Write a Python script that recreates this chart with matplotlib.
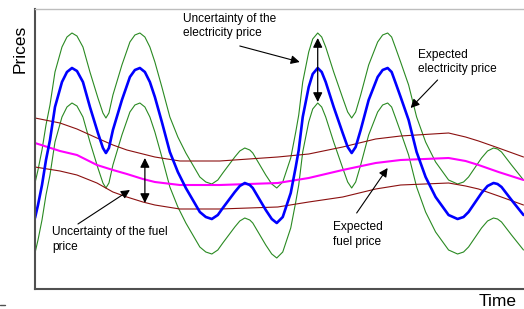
import matplotlib
matplotlib.use("Agg")
import matplotlib.pyplot as plt
from matplotlib.lines import Line2D

plt.rcParams['font.family'] = ['Liberation Sans', 'DejaVu Sans']
plt.rcParams['lines.solid_joinstyle'] = 'round'
plt.rcParams['lines.solid_capstyle'] = 'round'

# ---- data (schematic units: time 0..489, price 0..279) ----
elec_time = [0, 3, 7, 11, 15, 20, 27, 32, 37, 42, 48, 55, 63, 68, 71, 74, 78, 87, 95, 100,
             105, 110, 115, 120, 127, 135, 143, 151, 165, 171, 177, 183, 188, 200, 205, 210,
             215, 218, 231, 237, 242, 248, 256, 261, 264, 268, 274, 278, 283, 287, 291, 299,
             308, 313, 317, 321, 326, 334, 343, 348, 353, 357, 361, 366, 374, 382, 391, 401,
             414, 423, 429, 434, 447, 453, 459, 463, 467, 477, 489]
elec_expected = [70, 83, 103, 128, 148, 181, 206, 216, 220, 217, 206, 181, 155, 140, 135, 140,
                 158, 188, 211, 218, 220, 216, 206, 191, 166, 136, 116, 100, 76, 71, 69, 73,
                 80, 96, 102, 105, 103, 100, 78, 69, 65, 71, 95, 121, 138, 171, 201, 214, 220,
                 216, 206, 181, 155, 141, 135, 141, 158, 188, 211, 218, 220, 216, 205, 191,
                 168, 136, 111, 91, 73, 69, 71, 76, 95, 102, 105, 104, 101, 88, 73]
elec_upper = [105, 118, 138, 163, 183, 216, 241, 251, 255, 252, 241, 216, 190, 175, 170, 175,
              193, 223, 246, 253, 255, 251, 241, 226, 201, 171, 151, 135, 111, 106, 104, 108,
              115, 131, 137, 140, 138, 135, 113, 104, 100, 106, 130, 156, 173, 206, 236, 249,
              255, 251, 241, 216, 190, 176, 170, 176, 193, 223, 246, 253, 255, 251, 240, 226,
              203, 171, 146, 126, 108, 104, 106, 111, 130, 137, 140, 139, 136, 123, 108]
elec_lower = [35, 48, 68, 93, 113, 146, 171, 181, 185, 182, 171, 146, 120, 105, 100, 105,
              123, 153, 176, 183, 185, 181, 171, 156, 131, 101, 81, 65, 41, 36, 34, 38,
              45, 61, 67, 70, 68, 65, 43, 34, 30, 36, 60, 86, 103, 136, 166, 179, 185,
              181, 171, 146, 120, 106, 100, 106, 123, 153, 176, 183, 185, 181, 170, 156,
              133, 101, 76, 56, 38, 34, 36, 41, 60, 67, 70, 69, 66, 53, 38]

fuel_time = [0, 25, 42, 62, 78, 92, 108, 120, 145, 185, 243, 274, 308, 341, 366, 414, 431,
             444, 464, 489]
fuel_upper = [170, 165, 159, 150, 143, 138, 134, 131, 127, 127, 131, 134, 141, 149, 152, 155,
              151, 147, 140, 131]
fuel_expected = [145, 137, 133, 123, 118, 114, 109, 106, 103, 103, 105, 110, 118, 125, 128,
                 130, 127, 123, 116, 108]
fuel_lower = [121, 117, 113, 105, 96, 91, 86, 83, 79, 79, 81, 86, 91, 99, 103, 105, 102, 99,
              92, 83]

# ---- figure ----
W, H = 524, 309
fig = plt.figure(figsize=(W / 100, H / 100), dpi=100)
ax = fig.add_axes([34.5 / W, (H - 289) / H, (W - 34.5) / W, (289 - 9) / H])
ax.set_xlim(-0.5, 489.5)
ax.set_ylim(-1, 279)

green = '#2a8a22'
darkred = '#8b1010'
ax.plot(elec_time, elec_upper, color=green, lw=0.8)
ax.plot(elec_time, elec_lower, color=green, lw=0.8)
ax.plot(fuel_time, fuel_upper, color=darkred, lw=0.8)
ax.plot(fuel_time, fuel_lower, color=darkred, lw=0.8)
ax.plot(fuel_time, fuel_expected, color='#ff00ff', lw=1.5)
ax.plot(elec_time, elec_expected, color='#0000ff', lw=1.9)

ax.set_xticks([])
ax.set_yticks([])
for s in ['left', 'bottom']:
    ax.spines[s].set_color('#505050')
    ax.spines[s].set_linewidth(1.5)
ax.spines['top'].set_color('#bdbdbd')
ax.spines['top'].set_linewidth(1.0)
ax.spines['right'].set_visible(False)

fs = 8.6
head = dict(arrowstyle='-|>', color='black', lw=0.8, mutation_scale=13,
            shrinkA=0, shrinkB=0)
dbl = dict(arrowstyle='<|-|>', color='black', lw=0.9, mutation_scale=14,
           shrinkA=0, shrinkB=0)

# double arrows showing uncertainty
ax.annotate('', xy=(283, 250), xytext=(283, 186), arrowprops=dbl)
ax.annotate('', xy=(110, 130), xytext=(110, 85), arrowprops=dbl)

# labelled pointers
ax.annotate('', xy=(265, 226), xytext=(205, 242), arrowprops=head)
ax.text(148, 262, 'Uncertainty of the\nelectricity price', fontsize=fs,
        ha='left', va='center', linespacing=1.25)

ax.annotate('', xy=(376, 180), xytext=(403, 208), arrowprops=head)
ax.text(383, 226, 'Expected\nelectricity price', fontsize=fs,
        ha='left', va='center', linespacing=1.25)

ax.annotate('', xy=(95, 98), xytext=(43, 64), arrowprops=head)
ax.text(17, 48.5, 'Uncertainty of the fuel\nprice', fontsize=fs,
        ha='left', va='center', linespacing=1.25)

ax.annotate('', xy=(353, 120), xytext=(322, 75), arrowprops=head)
ax.text(298, 53.5, 'Expected\nfuel price', fontsize=fs,
        ha='left', va='center', linespacing=1.25)

fig.text(20 / W, 1 - 49 / H, 'Prices', rotation=90, fontsize=12.5,
         ha='center', va='center')
fig.text(517 / W, 1 - 306 / H, 'Time', fontsize=12.5, ha='right', va='baseline')

fig.lines.append(Line2D([0, 5 / W], [1 - 305 / H, 1 - 305 / H],
                        transform=fig.transFigure, color='#505050', lw=1))

fig.savefig('out.png', dpi=100)
